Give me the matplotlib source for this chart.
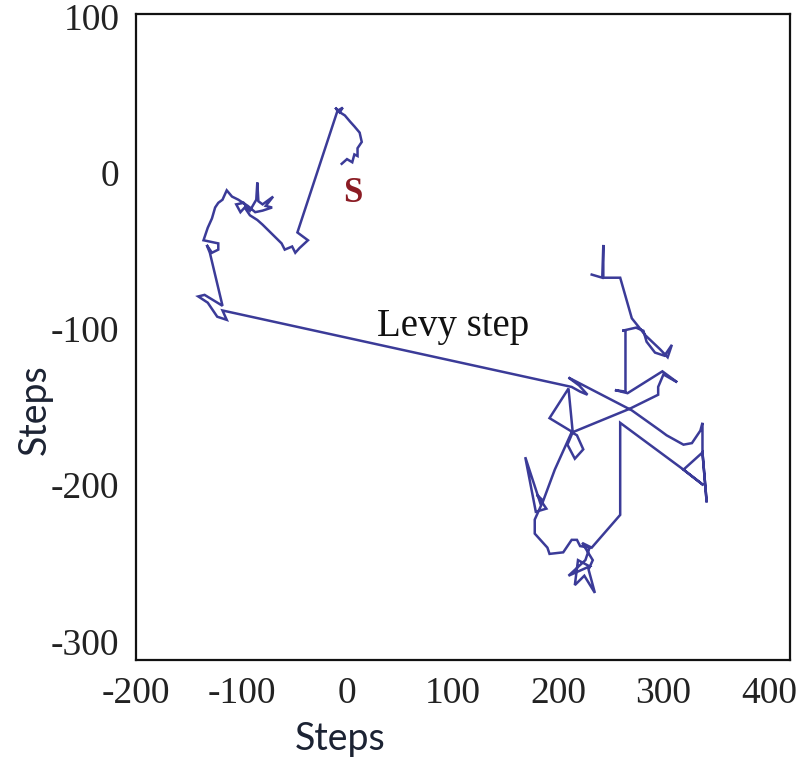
import matplotlib
matplotlib.use("Agg")
import matplotlib.pyplot as plt

plt.rcParams['axes.unicode_minus'] = False

# walk, in plot units (start is near "S")
walk_x = [-5, 0, 5, 7, 10, 10, 14, 12, 7, 3, -2, -9, -11, -7, -4, -9,
          -47, -37, -45, -49, -52, -59, -62,
          -80, -85, -92, -97, -101, -105, -98, -92, -86, -85, -84, -80, -70,
          -77, -71, -80, -87, -94, -103, -109, -114, -118, -122, -125, -128,
          -132, -136, -122, -122, -128, -133, -130, -118, -135, -141, -132,
          -123, -114, -118,
          213, 221, 228, 220, 210,
          270, 297, 303, 319, 327, 335, 337, 337, 341, 337, 319, 338, 319, 259,
          259, 232, 223, 233, 229, 235, 225, 216, 219, 230, 210, 226, 230,
          221, 218, 213, 205, 192, 190, 178, 178, 184, 169, 179, 189, 180,
          186, 197, 213, 218, 224, 216, 209, 214, 192, 210, 214,
          268, 295, 295, 300, 313, 299, 266, 254, 264, 264, 261, 274, 281,
          284, 292, 301, 308, 304, 297, 283, 270, 259, 243, 243, 242, 232]
walk_y = [6, 9, 7, 12, 11, 16, 20, 26, 30, 33, 37, 40, 42, 39, 42, 40,
          -38, -43, -48, -51, -47, -49, -45,
          -33, -30, -27, -22, -25, -20, -19, -24, -17, -6, -18, -20, -15,
          -21, -22, -24, -25, -21, -17, -15, -11, -17, -19, -22, -29,
          -35, -43, -45, -49, -51, -46, -51, -85, -78, -79, -83,
          -92, -94, -88,
          -137, -140, -142, -136, -131,
          -152, -165, -168, -174, -173, -165, -160, -179, -211, -179, -190, -200, -190, -160,
          -219, -240, -237, -248, -254, -269, -258, -264, -248, -252, -258, -248, -240,
          -239, -235, -235, -243, -244, -240, -231, -222, -213, -182, -217, -215, -206,
          -210, -190, -166, -168, -177, -183, -174, -166, -157, -138, -166,
          -151, -142, -137, -129, -134, -127, -141, -139, -140, -101, -101, -99, -101,
          -108, -115, -117, -110, -118, -113, -104, -93, -67, -67, -46, -67, -65]

x_ticks = [-200, -100, 0, 100, 200, 300, 400]
y_ticks = [100, 0, -100, -200, -300]

fig = plt.figure(figsize=(8.01, 7.58), dpi=100)
ax = fig.add_axes([0.1698, 0.1293, 0.8165, 0.8522])

ax.plot(walk_x, walk_y, color='#3b3b98', lw=1.8, solid_joinstyle='miter')

ax.text(101, -98, 'Levy step', fontsize=28, family='Liberation Serif',
        color='#111111', ha='center', va='center')
ax.text(6, -13, 'S', fontsize=25, family='Liberation Serif', weight='bold',
        color='#8b1c24', ha='center', va='center')

ax.set_xlim(-200, 420)
ax.set_ylim(-312, 102)
ax.set_xticks(x_ticks)
ax.set_yticks(y_ticks)
ax.tick_params(length=0, labelsize=27, colors='#222222')
ax.tick_params(axis='x', pad=12)
ax.tick_params(axis='y', pad=12)
for lab in ax.get_xticklabels() + ax.get_yticklabels():
    lab.set_family('Liberation Serif')

for sp in ax.spines.values():
    sp.set_linewidth(1.6)
    sp.set_color('#111111')

ax.set_xlabel('Steps', fontsize=27, family='Lato', color='#1c2333')
ax.set_ylabel('Steps', fontsize=27, family='Lato', color='#1c2333')
ax.xaxis.set_label_coords(0.312, -0.094)
ax.yaxis.set_label_coords(-0.128, 0.387)

fig.savefig('out.png', dpi=100)
